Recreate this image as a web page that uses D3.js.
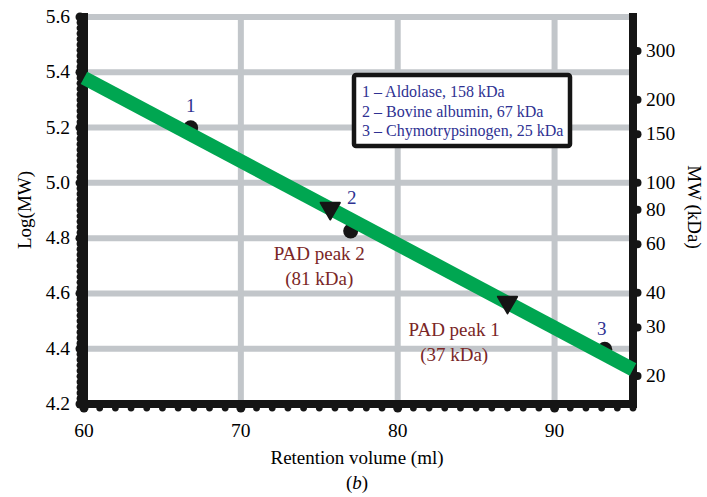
<!DOCTYPE html>
<html>
<head>
<meta charset="utf-8">
<script src="https://cdn.jsdelivr.net/npm/d3@7"></script>
<style>
  body { margin: 0; background: #fff; }
  svg text { font-family: "Liberation Serif", "Times New Roman", serif; }
</style>
</head>
<body>
<div id="chart"></div>
<script>
// Calibration standards (retention volume, log MW)
const standardLabels = ["1", "2", "3"];
const standardVolume = [66.8, 77.0, 93.2];
const standardLogMW = [5.199, 4.826, 4.398];

// PAD peaks
const peakNames = ["PAD peak 2", "PAD peak 1"];
const peakMass = ["(81 kDa)", "(37 kDa)"];
const peakVolume = [75.7, 87.0];
const peakLogMW = [4.908, 4.568];

// Fit line end points
const fitVolume = [60, 95];
const fitLogMW = [5.38, 4.325];

const legendLines = ["1 – Aldolase, 158 kDa", "2 – Bovine albumin, 67 kDa", "3 – Chymotrypsinogen, 25 kDa"];

const xTicks = [60, 70, 80, 90];
const yTicks = [4.2, 4.4, 4.6, 4.8, 5.0, 5.2, 5.4, 5.6];
const mwTicks = [20, 30, 40, 60, 80, 100, 150, 200, 300];

const W = 707, H = 497;
const svg = d3.select("#chart").append("svg")
  .attr("width", W)
  .attr("height", H);

const x = d3.scaleLinear().domain([60, 95]).range([84, 633]);
const y = d3.scaleLinear().domain([4.2, 5.6]).range([404, 17]);

const gridColor = "#c2c6ca";
const blue = "#2e3192";
const red = "#7a2626";
const ink = "#151515";

// Grid lines
svg.append("g").selectAll("line.h")
  .data(yTicks.slice(1))
  .join("line")
  .attr("x1", x(60)).attr("x2", x(95))
  .attr("y1", d => y(d)).attr("y2", d => y(d))
  .attr("stroke", gridColor)
  .attr("stroke-width", 6);

svg.append("g").selectAll("line.v")
  .data(xTicks.slice(1))
  .join("line")
  .attr("x1", d => x(d)).attr("x2", d => x(d))
  .attr("y1", y(5.6)).attr("y2", y(4.2))
  .attr("stroke", gridColor)
  .attr("stroke-width", 6);

// Minor bumps on left and bottom axes
const yMinor = d3.range(0, 71).map(i => 4.2 + i * 0.02);
svg.append("g").selectAll("circle")
  .data(yMinor)
  .join("circle")
  .attr("cx", x(60) - 4)
  .attr("cy", d => y(d))
  .attr("r", (d, i) => i % 10 === 0 ? 4.5 : 3.4)
  .attr("fill", ink);

const xMinor = d3.range(60, 96);
svg.append("g").selectAll("circle")
  .data(xMinor)
  .join("circle")
  .attr("cx", d => x(d))
  .attr("cy", y(4.2) + 4)
  .attr("r", d => d % 10 === 0 ? 4.5 : 3.4)
  .attr("fill", ink);

// Right axis ticks (MW in kDa)
svg.append("g").selectAll("circle")
  .data(mwTicks)
  .join("circle")
  .attr("cx", x(95) + 4.5)
  .attr("cy", d => y(Math.log10(d * 1000)))
  .attr("r", 4)
  .attr("fill", ink);

// Axis lines
svg.append("line")
  .attr("x1", x(60)).attr("x2", x(60))
  .attr("y1", y(5.6) - 4).attr("y2", y(4.2) + 4)
  .attr("stroke", ink).attr("stroke-width", 8);
svg.append("line")
  .attr("x1", x(60) - 4).attr("x2", x(95) + 4)
  .attr("y1", y(4.2)).attr("y2", y(4.2))
  .attr("stroke", ink).attr("stroke-width", 8);
svg.append("line")
  .attr("x1", x(95)).attr("x2", x(95))
  .attr("y1", y(5.6) - 4).attr("y2", y(4.2) + 4)
  .attr("stroke", ink).attr("stroke-width", 8);
// Top border (grey)
svg.append("line")
  .attr("x1", x(60) + 4).attr("x2", x(95) - 4)
  .attr("y1", y(5.6)).attr("y2", y(5.6))
  .attr("stroke", gridColor).attr("stroke-width", 5);

// Tick labels
svg.append("g").selectAll("text")
  .data(yTicks)
  .join("text")
  .attr("x", 70)
  .attr("y", d => y(d) + 6)
  .attr("text-anchor", "end")
  .style("font-size", "19.5px")
  .text(d => d.toFixed(1));

svg.append("g").selectAll("text")
  .data(xTicks)
  .join("text")
  .attr("x", d => x(d))
  .attr("y", 437)
  .attr("text-anchor", "middle")
  .style("font-size", "19.5px")
  .text(d => d);

svg.append("g").selectAll("text")
  .data(mwTicks)
  .join("text")
  .attr("x", 646)
  .attr("y", d => y(Math.log10(d * 1000)) + 6)
  .style("font-size", "19.5px")
  .text(d => d);

// Axis titles
svg.append("text")
  .attr("transform", "translate(31,210) rotate(-90)")
  .attr("text-anchor", "middle")
  .style("font-size", "19px")
  .text("Log(MW)");

svg.append("text")
  .attr("transform", "translate(688,207) rotate(90)")
  .attr("text-anchor", "middle")
  .style("font-size", "19px")
  .text("MW (kDa)");

svg.append("text")
  .attr("x", 357).attr("y", 464)
  .attr("text-anchor", "middle")
  .style("font-size", "19px")
  .text("Retention volume (ml)");

svg.append("text")
  .attr("x", 357).attr("y", 489)
  .attr("text-anchor", "middle")
  .style("font-size", "19px")
  .html('(<tspan font-style="italic">b</tspan>)');

// Standards (circles)
svg.append("g").selectAll("circle")
  .data(standardVolume)
  .join("circle")
  .attr("cx", d => x(d))
  .attr("cy", (d, i) => y(standardLogMW[i]))
  .attr("r", 7.5)
  .attr("fill", ink);

// Fit line
svg.append("path")
  .datum(fitVolume.map((v, i) => [v, fitLogMW[i]]))
  .attr("d", d3.line().x(d => x(d[0])).y(d => y(d[1])))
  .attr("stroke", "#00a651")
  .attr("stroke-width", 14)
  .attr("fill", "none");

// PAD peaks (down triangles)
svg.append("g").selectAll("path")
  .data(peakVolume)
  .join("path")
  .attr("transform", (d, i) => `translate(${x(d)},${y(peakLogMW[i])}) rotate(180)`)
  .attr("d", d3.symbol().type(d3.symbolTriangle).size(160))
  .attr("fill", ink)
  .attr("stroke", ink)
  .attr("stroke-width", 2)
  .attr("stroke-linejoin", "round");

// Standard number labels
const labelOffset = [[0, -16], [1, -27], [-3, -14]];
svg.append("g").selectAll("text")
  .data(standardLabels)
  .join("text")
  .attr("x", (d, i) => x(standardVolume[i]) + labelOffset[i][0])
  .attr("y", (d, i) => y(standardLogMW[i]) + labelOffset[i][1])
  .attr("text-anchor", "middle")
  .attr("fill", blue)
  .style("font-size", "19px")
  .text(d => d);

// PAD peak labels
const peakLabelPos = [[75.0, 4.72], [83.6, 4.445]];
peakNames.forEach((name, i) => {
  const t = svg.append("text")
    .attr("x", x(peakLabelPos[i][0]))
    .attr("y", y(peakLabelPos[i][1]))
    .attr("text-anchor", "middle")
    .attr("fill", red)
    .style("font-size", "19px");
  t.append("tspan").text(name);
  t.append("tspan")
    .attr("x", x(peakLabelPos[i][0]))
    .attr("dy", 25)
    .text(peakMass[i]);
});

// Legend
const legend = svg.append("g").attr("transform", "translate(354,75)");
legend.append("rect")
  .attr("width", 216).attr("height", 71)
  .attr("rx", 2)
  .attr("fill", "#fff")
  .attr("stroke", ink)
  .attr("stroke-width", 4.5);
legend.selectAll("text")
  .data(legendLines)
  .join("text")
  .attr("x", 8)
  .attr("y", (d, i) => 22 + i * 19.5)
  .attr("fill", blue)
  .style("font-size", "16px")
  .text(d => d);
</script>
</body>
</html>
